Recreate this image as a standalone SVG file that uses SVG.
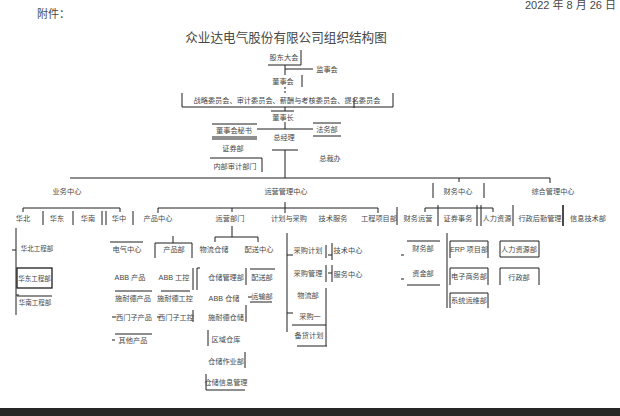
<svg xmlns="http://www.w3.org/2000/svg" width="620" height="416" viewBox="0 0 620 416">
<style>
text{font-family:"Liberation Sans","Noto Sans CJK SC",sans-serif;fill:#474747}
.t{font-size:7.2px;text-anchor:middle}
.ln{stroke:#1e1e1e;stroke-width:1;fill:none}
.bd{stroke:#1e1e1e;stroke-width:1.6;fill:none}
</style>
<rect width="620" height="416" fill="#ffffff"/>
<text x="616" y="9" style="font-size:11px;text-anchor:end">2022 年 8 月 26 日</text>
<text x="37" y="18" style="font-size:11px">附件：</text>
<text x="286" y="42" style="font-size:12.6px;text-anchor:middle">众业达电气股份有限公司组织结构图</text>

<g id="connectors" class="ln">
<path d="M268,65 H301 V50"/>
<path d="M285,65 V75 M285,69 H313"/>
<path d="M302,75 V87"/>
<path d="M285,87 V93" stroke-dasharray="2,2"/>
<path d="M182,93 V107 H393 V93"/>
<path d="M354,98 V108"/>
<path d="M285,107 V111 M271,111 H294"/>
<path d="M285,122 V129 M257,129 H313"/>
<path d="M212,124 H257 M212,137 H257 M212,139 H257"/>
<path d="M210,158 H262 V172"/>
<path d="M313,123 H341 M313,136 H341"/>
<path d="M272,150 H298 M285,150 V178"/>
<path d="M70,178 H550 M459,178 V182 M550,178 V183"/>
<path d="M433,183 V198 M484,183 V198"/>
<path d="M23,212 V208 H120 V212"/>
<path d="M43,211 V225 M73,211 V225 M102,211 V225 M106,211 V225 M133,211 V225"/>
<path d="M158,213 V208 H378 V213 M232,208 V212 M285,202 V213"/>
<path d="M397,207 V225"/>
<path d="M425,212 V208 H493 V212"/>
<path d="M438,205 V226 M477,205 V226 M481,205 V226 M513,205 V226"/>
<path class="bd" d="M563,205 V226"/>
<path d="M16,228 V315 M12,250 H16 M16,295 H19"/>
<path d="M17,296 H52"/>
<path d="M110,242 H143 M115,291 H152 M112,317 H116 M115,334 H152 M112,340 H115"/>
<path d="M173,236 V243 M155,258 V243 H192 V258"/>
<path d="M161,291 H190 M157,317 H160 M193,310 V322"/>
<path d="M193,268 V290 M197,268 V290 M197,268 H200"/>
<path d="M215,242 V237 H258 V242 M232,226 V237"/>
<path d="M246,268 V285 M246,305 V322 M208,330 V346 M245,352 V368 M206,374 V390 H245"/>
<path d="M250,269 H275 M248,297 H252 M250,302 H272"/>
<path d="M287,233 V332 M287,255 H293 M287,313 H293"/>
<path d="M326,245 V258 M326,265 V282 M326,288 V346 M292,325 H326 M297,346 H327"/>
<path d="M332,243 V260 M328,255 H332 M332,265 V282 M328,273 H332"/>
<path d="M407,241 H440 M401,255 H404 M401,279 H404 M407,285 H440"/>
<path d="M447,233 V308"/>
<path d="M450,258 V241 H488 V258 M450,285 V268 H488 V285 M450,308 V293 H488 V308"/>
<path d="M500,241 H539 V257 H500 Z M500,285 V268 H539 V285"/>
</g>

<g id="n-gddh"><text class="t" x="284" y="60">股东大会</text></g>
<g id="n-jsh"><text class="t" x="327" y="72">监事会</text></g>
<g id="n-dsh"><text class="t" x="283" y="84">董事会</text></g>
<g id="n-wyh"><text class="t" x="287" y="103">战略委员会、审计委员会、薪酬与考核委员会、提名委员会</text></g>
<g id="n-dsz"><text class="t" x="283" y="120">董事长</text></g>
<g id="n-zjl"><text class="t" x="284" y="140">总经理</text></g>
<g id="n-dms"><text class="t" x="234" y="133">董事会秘书</text></g>
<g id="n-zqb"><text class="t" x="233" y="151">证券部</text></g>
<g id="n-nsb"><text class="t" x="235" y="169">内部审计部门</text></g>
<g id="n-fwb"><text class="t" x="327" y="132">法务部</text></g>
<g id="n-zcb"><text class="t" x="330" y="161">总裁办</text></g>

<g id="n-ywzx"><text class="t" x="67" y="194">业务中心</text></g>
<g id="n-yyzx"><text class="t" x="286" y="194">运营管理中心</text></g>
<g id="n-cwzx"><text class="t" x="458" y="194">财务中心</text></g>
<g id="n-zhzx"><text class="t" x="553" y="194">综合管理中心</text></g>

<g id="n-hb"><text class="t" x="23" y="221">华北</text></g>
<g id="n-hd"><text class="t" x="57" y="221">华东</text></g>
<g id="n-hn"><text class="t" x="88" y="221">华南</text></g>
<g id="n-hz"><text class="t" x="119" y="221">华中</text></g>
<g id="n-cpzx"><text class="t" x="158" y="221">产品中心</text></g>
<g id="n-yybm"><text class="t" x="230" y="221">运营部门</text></g>
<g id="n-jhcg"><text class="t" x="289" y="221">计划与采购</text></g>
<g id="n-jsfw"><text class="t" x="333" y="221">技术服务</text></g>
<g id="n-gcxm"><text class="t" x="379" y="221">工程项目部</text></g>
<g id="n-cwyy"><text class="t" x="418" y="221">财务运营</text></g>
<g id="n-zqsw"><text class="t" x="458" y="221">证券事务</text></g>
<g id="n-rlzy"><text class="t" x="497" y="221">人力资源</text></g>
<g id="n-xzhq"><text class="t" x="540" y="221">行政后勤管理</text></g>
<g id="n-xxjs"><text class="t" x="588" y="221">信息技术部</text></g>

<g id="n-hbgc"><text class="t" x="37" y="251" style="font-size:6.5px">华北工程部</text></g>
<g id="n-hdgc"><rect x="17" y="268" width="35" height="20" class="ln" style="stroke-width:1.3"/><text class="t" x="34.5" y="281" style="font-size:6.5px">华东工程部</text></g>
<g id="n-hngc"><text class="t" x="35" y="305" style="font-size:6.5px">华南工程部</text></g>

<g id="n-dqzx"><text class="t" x="127" y="252">电气中心</text></g>
<g id="n-abbcp"><text class="t" x="130" y="280">ABB 产品</text></g>
<g id="n-sndcp"><text class="t" x="133" y="301">施耐德产品</text></g>
<g id="n-xmzcp"><text class="t" x="134" y="320">西门子产品</text></g>
<g id="n-qtcp"><text class="t" x="133" y="343">其他产品</text></g>

<g id="n-cpb"><text class="t" x="174" y="252">产品部</text></g>
<g id="n-abbgk"><text class="t" x="174" y="280">ABB 工控</text></g>
<g id="n-sndgk"><text class="t" x="175" y="301">施耐德工控</text></g>
<g id="n-xmzgk"><text class="t" x="176" y="320">西门子工控</text></g>

<g id="n-wlcc"><text class="t" x="214" y="252">物流仓储</text></g>
<g id="n-pszx"><text class="t" x="259" y="252">配送中心</text></g>
<g id="n-ccgl"><text class="t" x="226" y="280">仓储管理部</text></g>
<g id="n-abbcc"><text class="t" x="224" y="301">ABB 仓储</text></g>
<g id="n-sndcc"><text class="t" x="226" y="320">施耐德仓储</text></g>
<g id="n-qyck"><text class="t" x="226" y="342">区域仓库</text></g>
<g id="n-cczy"><text class="t" x="226" y="364">仓储作业部</text></g>
<g id="n-ccxx"><text class="t" x="226" y="385">仓储信息管理</text></g>

<g id="n-psb"><text class="t" x="262" y="280">配送部</text></g>
<g id="n-ysb"><text class="t" x="262" y="299">运输部</text></g>

<g id="n-cgjh"><text class="t" x="308" y="253">采购计划</text></g>
<g id="n-cggl"><text class="t" x="308" y="276">采购管理</text></g>
<g id="n-wlb"><text class="t" x="308" y="298">物流部</text></g>
<g id="n-cgy"><text class="t" x="310" y="319">采购一</text></g>
<g id="n-bhjh"><text class="t" x="309" y="338">备货计划</text></g>

<g id="n-jszx"><text class="t" x="348" y="253">技术中心</text></g>
<g id="n-fwzx"><text class="t" x="348" y="277">服务中心</text></g>

<g id="n-cwb"><text class="t" x="423" y="251">财务部</text></g>
<g id="n-zjb"><text class="t" x="423" y="276">资金部</text></g>

<g id="n-erp"><text class="t" x="469" y="252">ERP 项目部</text></g>
<g id="n-dzsw"><text class="t" x="469" y="279">电子商务部</text></g>
<g id="n-xtyw"><text class="t" x="469" y="303">系统运维部</text></g>

<g id="n-rlzyb"><text class="t" x="519" y="252">人力资源部</text></g>
<g id="n-xzb"><text class="t" x="519" y="280">行政部</text></g>

<rect x="0" y="408" width="620" height="8" fill="#262626"/>
</svg>
